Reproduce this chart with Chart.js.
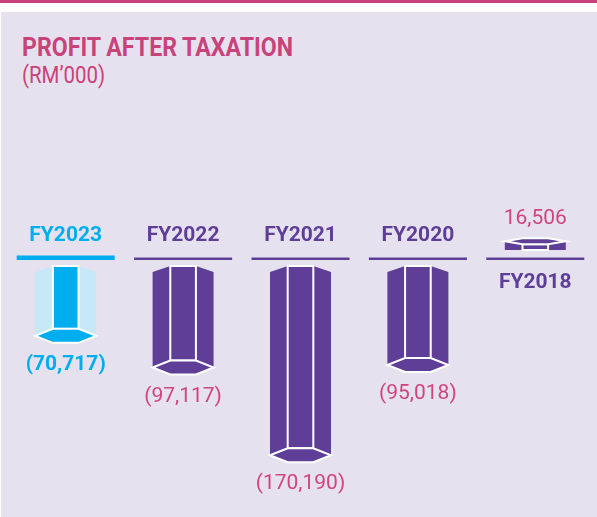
<!DOCTYPE html>
<html>
<head>
<meta charset="utf-8">
<script src="https://cdn.jsdelivr.net/npm/chart.js@4"></script>
<style>
  body { margin: 0; background: #fff; font-family: Roboto, sans-serif; }
  #topline { position: absolute; left: 0; top: 0; width: 597px; height: 3px; background: #c9437b; }
  #panel { position: absolute; left: 1px; top: 12px; width: 596px; height: 505px; background: #e6e1ef; }
  #title { position: absolute; left: 22px; top: 34px; line-height: 1; color: #c9437b; font-weight: bold; font-size: 26px; transform: scaleX(0.89); transform-origin: left top; white-space: nowrap; }
  #unit { position: absolute; left: 22px; top: 64px; line-height: 1; color: #c9437b; font-size: 23px; transform: scaleX(0.89); transform-origin: left top; white-space: nowrap; }
  canvas { position: absolute; left: 0; top: 0; }
</style>
</head>
<body>
<div id="topline"></div>
<div id="panel"></div>
<div id="title">PROFIT AFTER TAXATION</div>
<div id="unit">(RM’000)</div>
<canvas id="profitChart" width="597" height="517"></canvas>
<script>
// values in RM'000
var categories = ['FY2023', 'FY2022', 'FY2021', 'FY2020', 'FY2018']
var profitAfterTax = [-70717, -97117, -170190, -95018, 16506]

// styling, one entry per category
var frontColors = ['#00aeef', '#5f3e97', '#5f3e97', '#5f3e97', '#5f3e97']
var sideColors = ['#c6e8f7', '#5f3e97', '#5f3e97', '#5f3e97', '#5f3e97']
var lineColors = ['#00aeef', '#5f3e97', '#5f3e97', '#5f3e97', '#5f3e97']
var lineWidths = [4.5, 2.5, 2.5, 2.5, 2.5]
var labelColors = ['#00aeef', '#5f3e97', '#5f3e97', '#5f3e97', '#5f3e97']
var valueColors = ['#00aeef', '#cf457e', '#cf457e', '#cf457e', '#cf457e']
var valueBold = [true, false, false, false, false]

function formatValue (v) {
  var s = Math.abs(v).toLocaleString('en-US')
  return v < 0 ? '(' + s + ')' : s
}

function polygon (ctx, pts) {
  ctx.beginPath()
  ctx.moveTo(pts[0][0], pts[0][1])
  for (var i = 1; i < pts.length; i++) ctx.lineTo(pts[i][0], pts[i][1])
  ctx.closePath()
}

var prismPlugin = {
  id: 'prism',
  afterDatasetsDraw: function (chart) {
    var ctx = chart.ctx
    var zero = chart.scales.y.getPixelForValue(0)
    var meta = chart.getDatasetMeta(0)
    ctx.save()
    ctx.textAlign = 'center'
    ctx.textBaseline = 'middle'
    meta.data.forEach(function (bar, i) {
      var value = profitAfterTax[i]
      var c = bar.x
      var h = bar.width / 2
      var f = bar.width * 0.21

      // baseline
      ctx.fillStyle = lineColors[i]
      ctx.fillRect(c - 49, zero + 2 - lineWidths[i], 98, lineWidths[i])

      ctx.strokeStyle = '#ffffff'
      ctx.lineWidth = 2
      ctx.lineJoin = 'miter'

      if (value < 0) {
        var top = zero + 8
        var bottom = bar.y
        ctx.fillStyle = sideColors[i]
        polygon(ctx, [[c - h, top + 6], [c - f, top], [c + f, top], [c + h, top + 6], [c + h, bottom - 7], [c - h, bottom - 7]])
        ctx.fill()
        ctx.fillStyle = frontColors[i]
        ctx.fillRect(c - f, top, 2 * f, bottom - 14 - top)
        ctx.strokeRect(c - f, top, 2 * f, bottom - 14 - top)
        polygon(ctx, [[c - h, bottom - 7], [c - f, bottom - 14], [c + f, bottom - 14], [c + h, bottom - 7], [c + f, bottom], [c - f, bottom]])
        ctx.fill()
        ctx.stroke()

        ctx.font = 'bold 21px Roboto'
        ctx.fillStyle = labelColors[i]
        ctx.fillText(categories[i], c, zero - 22)
        ctx.font = (valueBold[i] ? 'bold ' : '') + '21px Roboto'
        ctx.fillStyle = valueColors[i]
        ctx.fillText(formatValue(value), c, bottom + 22)
      } else {
        var ptop = bar.y
        var pbottom = zero - 8
        ctx.fillStyle = sideColors[i]
        polygon(ctx, [[c - h, ptop + 3], [c - f, ptop], [c + f, ptop], [c + h, ptop + 3], [c + h, pbottom], [c - h, pbottom]])
        ctx.fill()
        ctx.fillStyle = frontColors[i]
        ctx.strokeRect(c - f, ptop + 6, 2 * f, pbottom - ptop - 6)
        polygon(ctx, [[c - h, ptop + 3], [c - f, ptop], [c + f, ptop], [c + h, ptop + 3], [c + f, ptop + 6], [c - f, ptop + 6]])
        ctx.fill()
        ctx.stroke()

        ctx.font = 'bold 21px Roboto'
        ctx.fillStyle = labelColors[i]
        ctx.fillText(categories[i], c, zero + 25)
        ctx.font = (valueBold[i] ? 'bold ' : '') + '21px Roboto'
        ctx.fillStyle = valueColors[i]
        ctx.fillText(formatValue(value), c, ptop - 19)
      }
    })
    ctx.restore()
  }
}

var ctx = document.getElementById('profitChart').getContext('2d')
new Chart(ctx, {
  type: 'bar',
  data: {
    labels: categories,
    datasets: [{ data: profitAfterTax, backgroundColor: 'rgba(0,0,0,0)', borderWidth: 0, barThickness: 61 }]
  },
  options: {
    responsive: false,
    animation: false,
    layout: { padding: { top: 210, bottom: 31, left: 7, right: 3 } },
    plugins: { legend: { display: false }, tooltip: { enabled: false } },
    scales: {
      x: { display: false },
      y: { display: false, min: -190000, max: 40000 }
    }
  },
  plugins: [prismPlugin]
})
</script>
</body>
</html>
